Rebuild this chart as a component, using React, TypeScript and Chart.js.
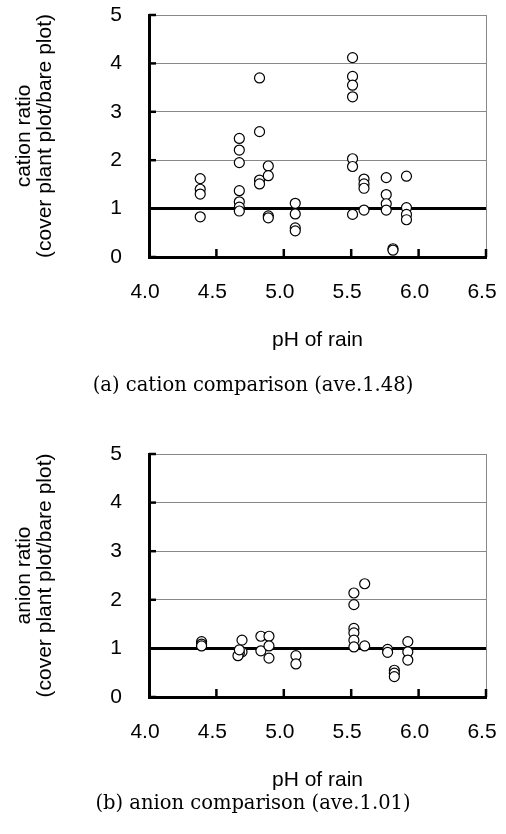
import React, { useEffect, useRef } from "react";
import { Chart, registerables } from "chart.js";

Chart.register(...registerables);

// ---- data ----
const xTickValues = [4.0, 4.5, 5.0, 5.5, 6.0, 6.5];
const yTickValues = [0, 1, 2, 3, 4, 5];

const cationPH = [
  4.38, 4.38, 4.38, 4.38,
  4.67, 4.67, 4.67, 4.67, 4.67, 4.67, 4.67,
  4.82, 4.82, 4.82, 4.82,
  4.885, 4.885, 4.885, 4.885,
  5.085, 5.085, 5.085, 5.085,
  5.51, 5.51, 5.51, 5.51, 5.51, 5.51, 5.51,
  5.595, 5.595, 5.595, 5.595,
  5.76, 5.76, 5.76, 5.76,
  5.81, 5.81,
  5.91, 5.91, 5.91, 5.91,
];
const cationRatio = [
  1.62, 1.4, 1.3, 0.83,
  2.45, 2.21, 1.95, 1.37, 1.14, 1.03, 0.95,
  3.7, 2.59, 1.59, 1.51,
  1.88, 1.68, 0.85, 0.81,
  1.11, 0.89, 0.6, 0.54,
  4.12, 3.73, 3.55, 3.31, 2.03, 1.87, 0.88,
  1.61, 1.51, 1.42, 0.97,
  1.64, 1.29, 1.1, 0.97,
  0.17, 0.14,
  1.67, 1.02, 0.88, 0.77,
];

const anionPH = [
  4.39, 4.39, 4.39,
  4.69, 4.69, 4.67, 4.66, 4.67,
  4.83, 4.83,
  4.89, 4.89, 4.89,
  5.09, 5.09,
  5.52, 5.52, 5.52, 5.52, 5.52, 5.52,
  5.6, 5.6,
  5.77, 5.77,
  5.82, 5.82, 5.82,
  5.92, 5.92, 5.92,
];
const anionRatio = [
  1.14, 1.09, 1.05,
  1.17, 0.93, 0.9, 0.85, 0.97,
  1.25, 0.95,
  1.25, 1.05, 0.8,
  0.85, 0.68,
  2.14, 1.9, 1.41, 1.32, 1.17, 1.03,
  2.33, 1.05,
  0.98, 0.92,
  0.55, 0.49, 0.42,
  1.14, 0.93, 0.76,
];

const SANS = "'Liberation Sans', Arial, sans-serif";
const SERIF = "'DejaVu Serif', 'Liberation Serif', serif";
const CLEAR = "rgba(0,0,0,0)";

const innerTicks = {
  id: "innerTicks",
  afterDatasetsDraw(chart: any) {
    const { ctx, chartArea, scales } = chart;
    ctx.save();
    ctx.strokeStyle = "#000";
    ctx.lineWidth = 2.5;
    scales.y.ticks.forEach((t: any) => {
      const y = scales.y.getPixelForValue(t.value);
      ctx.beginPath();
      ctx.moveTo(chartArea.left, y);
      ctx.lineTo(chartArea.left + 7, y);
      ctx.stroke();
    });
    scales.x.ticks.forEach((t: any) => {
      if (t.value <= 4) return;
      const x = scales.x.getPixelForValue(t.value);
      ctx.beginPath();
      ctx.moveTo(x, chartArea.bottom);
      ctx.lineTo(x, chartArea.bottom - 8);
      ctx.stroke();
    });
    ctx.restore();
  },
};

type PanelProps = {
  ph: number[];
  ratio: number[];
  yTitle: string[];
  padTop: number;
  xHeight: number;
  xTitlePad: number;
};

function Panel({ ph, ratio, yTitle, padTop, xHeight, xTitlePad }: PanelProps) {
  const ref = useRef<HTMLCanvasElement | null>(null);
  useEffect(() => {
    if (!ref.current) return;
    const points = ph.map((x, i) => ({ x, y: ratio[i] }));
    const chart = new Chart(ref.current, {
      type: "scatter",
      data: {
        datasets: [
          {
            data: points,
            pointRadius: 5,
            pointHoverRadius: 5,
            pointBorderWidth: 1.2,
            pointBorderColor: "#000",
            pointBackgroundColor: "#fff",
          },
        ],
      },
      options: {
        animation: false,
        responsive: false,
        devicePixelRatio: 1,
        layout: { padding: { top: padTop, right: 20, bottom: 0, left: 0 } },
        plugins: {
          legend: { display: false },
          tooltip: { enabled: false },
          title: { display: false },
        },
        scales: {
          x: {
            type: "linear",
            min: 4,
            max: 6.5,
            afterBuildTicks: (s: any) => {
              s.ticks = xTickValues.map((v) => ({ value: v }));
            },
            afterFit: (s: any) => {
              s.height = xHeight;
            },
            ticks: {
              callback: (v: any) => Number(v).toFixed(1),
              font: { family: SANS, size: 21 },
              color: "#000",
              padding: 0,
              labelOffset: -4,
              maxRotation: 0,
            },
            grid: {
              drawTicks: true,
              tickLength: 23,
              tickColor: CLEAR,
              color: (c: any) => (c.tick && c.tick.value === 6.5 ? "#888" : CLEAR),
              lineWidth: 1,
            },
            border: { color: "#000", width: 3 },
            title: {
              display: true,
              text: "pH of rain",
              color: "#000",
              font: { family: SANS, size: 21 },
              padding: { top: 0, bottom: xTitlePad },
            },
          },
          y: {
            type: "linear",
            min: 0,
            max: 5,
            afterBuildTicks: (s: any) => {
              s.ticks = yTickValues.map((v) => ({ value: v }));
            },
            afterFit: (s: any) => {
              s.width = 149;
            },
            ticks: {
              font: { family: SANS, size: 21 },
              color: "#000",
              padding: 0,
            },
            grid: {
              drawTicks: true,
              tickLength: 27,
              tickColor: CLEAR,
              color: (c: any) => {
                const v = c.tick ? c.tick.value : -1;
                if (v === 0) return CLEAR;
                if (v === 1) return "#000";
                return "#888";
              },
              lineWidth: (c: any) => (c.tick && c.tick.value === 1 ? 3 : 1),
            },
            border: { color: "#000", width: 3 },
            title: {
              display: true,
              text: yTitle,
              color: "#000",
              font: { family: SANS, size: 21, lineHeight: 1.0 },
              padding: { top: 14, bottom: 0 },
            },
          },
        },
      },
      plugins: [innerTicks],
    } as any);
    return () => chart.destroy();
  }, []);
  return <canvas ref={ref} width={506} height={417} style={{ display: "block", width: 506, height: 417 }} />;
}

const captionStyle = (top: number): React.CSSProperties => ({
  position: "absolute",
  left: 0,
  top,
  width: 506,
  textAlign: "center",
  fontFamily: SERIF,
  fontSize: 19.5,
  lineHeight: "22px",
  color: "#000",
});

export default function App() {
  return (
    <div style={{ position: "absolute", left: 0, top: 0, width: 506, height: 834, background: "#fff" }}>
      <div style={{ position: "absolute", left: 0, top: 0 }}>
        <Panel
          ph={cationPH}
          ratio={cationRatio}
          yTitle={["cation ratio", "(cover plant plot/bare plot)"]}
          padTop={15}
          xHeight={160}
          xTitlePad={64}
        />
      </div>
      <div style={{ position: "absolute", left: 0, top: 417 }}>
        <Panel
          ph={anionPH}
          ratio={anionRatio}
          yTitle={["anion ratio", "(cover plant plot/bare plot)"]}
          padTop={37}
          xHeight={137}
          xTitlePad={41}
        />
      </div>
      <div style={captionStyle(374)}>(a) cation comparison (ave.1.48)</div>
      <div style={captionStyle(792)}>(b) anion comparison (ave.1.01)</div>
    </div>
  );
}
